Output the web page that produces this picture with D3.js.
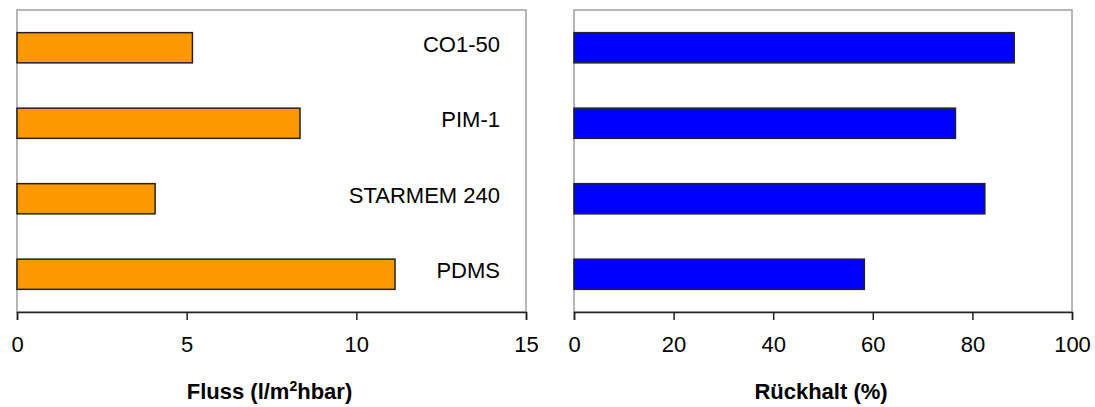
<!DOCTYPE html>
<html>
<head>
<meta charset="utf-8">
<script src="https://cdn.jsdelivr.net/npm/d3@7"></script>
<style>
  html, body { margin: 0; padding: 0; background: #fff; }
  svg { display: block; }
  text { font-family: Arial, "Liberation Sans", sans-serif; }
</style>
</head>
<body>
<svg id="chart" width="1095" height="407"></svg>
<script>
const categories = ["CO1-50", "PIM-1", "STARMEM 240", "PDMS"];
const fluxValues = [5.17, 8.34, 4.07, 11.14];
const retentionValues = [88.4, 76.6, 82.5, 58.3];
const fluxTicks = [0, 5, 10, 15];
const retentionTicks = [0, 20, 40, 60, 80, 100];

const svg = d3.select("#chart");

function panel(opts) {
  const { x0, x1, y0, y1, domain, ticks, values, color, showLabels, title } = opts;
  const g = svg.append("g");
  const x = d3.scaleLinear().domain(domain).range([x0, x1]);
  const y = d3.scaleBand().domain(categories).range([y0, y1]).paddingInner(0.6).paddingOuter(0.3);

  // frame (gray)
  g.append("rect")
    .attr("x", x0).attr("y", y0)
    .attr("width", x1 - x0).attr("height", y1 - y0)
    .attr("fill", "none").attr("stroke", "#a0a0a0").attr("stroke-width", 1.5);

  // bars
  g.selectAll("rect.bar").data(values).enter().append("rect")
    .attr("class", "bar")
    .attr("x", x(0))
    .attr("y", (d, i) => y(categories[i]))
    .attr("width", d => x(d) - x(0))
    .attr("height", y.bandwidth())
    .attr("fill", color)
    .attr("stroke", "#222")
    .attr("stroke-width", 1.5);

  // category labels
  if (showLabels) {
    g.selectAll("text.cat").data(categories).enter().append("text")
      .attr("class", "cat")
      .attr("x", 500)
      .attr("y", d => y(d) + y.bandwidth() / 2 + 4)
      .attr("text-anchor", "end")
      .attr("font-size", 22)
      .attr("fill", "#000")
      .text(d => d);
  }

  // x axis
  const axis = d3.axisBottom(x).tickValues(ticks).tickSize(8).tickPadding(16).tickFormat(d3.format("d"));
  const ag = g.append("g").attr("transform", `translate(0,${y1})`).call(axis);
  ag.select(".domain").attr("stroke", "#222").attr("stroke-width", 1.5);
  ag.selectAll(".tick line").attr("stroke", "#222").attr("stroke-width", 1.5);
  ag.selectAll(".tick text").attr("font-size", 22).attr("fill", "#000")
    .attr("font-family", "Arial, 'Liberation Sans', sans-serif");

  // title
  const t = g.append("text")
    .attr("x", (x0 + x1) / 2 - 2)
    .attr("y", 399)
    .attr("text-anchor", "middle")
    .attr("font-size", 22)
    .attr("font-weight", "bold")
    .attr("fill", "#000");
  title(t);
}

panel({
  x0: 17, x1: 526, y0: 10, y1: 312,
  domain: [0, 15], ticks: fluxTicks, values: fluxValues,
  color: "#ff9900", showLabels: true,
  title: t => {
    t.append("tspan").text("Fluss (l/m");
    t.append("tspan").attr("font-size", 14).attr("dy", -8).text("2");
    t.append("tspan").attr("dy", 8).text("hbar)");
  }
});

panel({
  x0: 574, x1: 1072, y0: 10, y1: 312,
  domain: [0, 100], ticks: retentionTicks, values: retentionValues,
  color: "#0000ff", showLabels: false,
  title: t => { t.text("Rückhalt (%)"); }
});
</script>
</body>
</html>
